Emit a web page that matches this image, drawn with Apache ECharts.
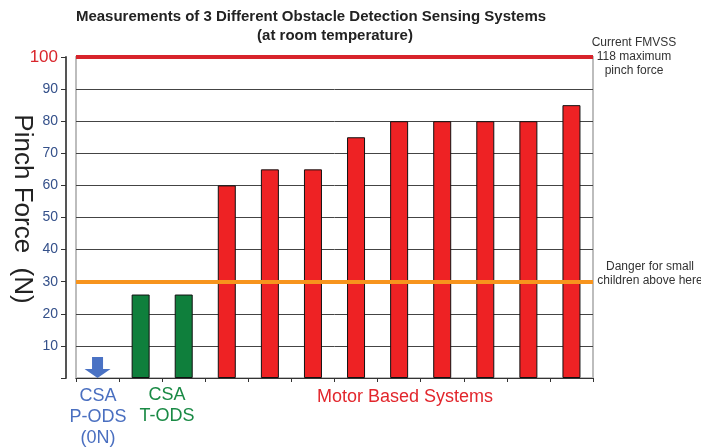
<!DOCTYPE html>
<html>
<head>
<meta charset="utf-8">
<script src="https://cdn.jsdelivr.net/npm/echarts@6/dist/echarts.min.js"></script>
<style>
html,body{margin:0;padding:0;background:#fff;}
#main{width:701px;height:447px;}
</style>
</head>
<body>
<div id="main"></div>
<script>
// ---- data ----
var categories = ['CSA P-ODS', 'CSA T-ODS 1', 'CSA T-ODS 2', 'Motor 1', 'Motor 2', 'Motor 3', 'Motor 4', 'Motor 5', 'Motor 6', 'Motor 7', 'Motor 8', 'Motor 9'];
var pinchForce = [0, 26, 26, 60, 65, 65, 75, 80, 80, 80, 80, 85];
var systemGroup = ['pods', 'tods', 'tods', 'motor', 'motor', 'motor', 'motor', 'motor', 'motor', 'motor', 'motor', 'motor'];
var yTicks = [0, 10, 20, 30, 40, 50, 60, 70, 80, 90, 100];
var fmvssLimit = 100;
var dangerLevel = 30;
var titleLines = ['Measurements of 3 Different Obstacle Detection Sensing Systems', '(at room temperature)'];
var fmvssNote = ['Current FMVSS', '118 maximum', 'pinch force'];
var dangerNote = ['Danger for small', 'children above here'];
var groupLabels = { pods: 'CSA\nP-ODS\n(0N)', tods: 'CSA\nT-ODS', motor: 'Motor Based Systems' };

// ---- styles ----
var groupColor = { pods: '#4a72c4', tods: '#0f7f3c', motor: '#ee2224' };
var groupTextColor = { pods: '#4a6fc0', tods: '#1a8a45', motor: '#e2262c' };
var FONT = '"Liberation Sans", Arial, sans-serif';
var NARROW = '"Liberation Sans Narrow", "Liberation Sans", Arial, sans-serif';

var barData = pinchForce.map(function (v, i) {
  var g = systemGroup[i];
  if (g === 'pods') {
    return { value: v, itemStyle: { color: 'rgba(0,0,0,0)', borderWidth: 0 } };
  }
  return { value: v, itemStyle: { color: groupColor[g], borderColor: '#111', borderWidth: 1 } };
});
var arrowData = [];
pinchForce.forEach(function (v, i) {
  if (systemGroup[i] === 'pods') arrowData.push([i, v]);
});

var chart = echarts.init(document.getElementById('main'), null, { renderer: 'canvas' });
chart.setOption({
  animation: false,
  backgroundColor: '#fff',
  grid: { left: 76, right: 108, top: 57, bottom: 69, show: true, borderColor: '#bdbdbd', borderWidth: 2, backgroundColor: 'transparent' },
  xAxis: {
    type: 'category',
    data: categories,
    axisLine: { show: true, lineStyle: { color: '#333', width: 1 } },
    axisTick: { show: true, length: 4, interval: 0, lineStyle: { color: '#333' } },
    axisLabel: { show: false },
    splitLine: { show: false }
  },
  yAxis: {
    type: 'value',
    min: yTicks[0],
    max: yTicks[yTicks.length - 1],
    interval: 10,
    offset: 10,
    axisLine: { show: true, lineStyle: { color: '#555', width: 2 } },
    axisTick: { show: true, length: 5, lineStyle: { color: '#333' } },
    axisLabel: {
      margin: 8,
      color: '#34508a',
      fontFamily: NARROW,
      fontSize: 14,
      formatter: function (v) {
        if (v === 0) return '';
        if (v === fmvssLimit) return '{r|' + v + '}';
        return String(v);
      },
      rich: { r: { color: '#d9262c', fontSize: 17, fontFamily: FONT } }
    },
    splitLine: { show: true, lineStyle: { color: '#444', width: 1 } }
  },
  series: [
    {
      type: 'bar',
      data: barData,
      barWidth: 18,
      markLine: {
        silent: true,
        symbol: 'none',
        label: { show: false },
        data: [
          { yAxis: fmvssLimit, lineStyle: { color: '#d8242b', width: 4, type: 'solid' } },
          { yAxis: dangerLevel, lineStyle: { color: '#f7941d', width: 4, type: 'solid' } }
        ]
      }
    },
    {
      type: 'scatter',
      data: arrowData,
      symbol: 'path://M7.5,0 L18.5,0 L18.5,12 L26,12 L13,21 L0,12 L7.5,12 Z',
      symbolSize: [26, 21],
      symbolOffset: [0, -10.5],
      itemStyle: { color: groupColor.pods, opacity: 1 },
      z: 5
    }
  ],
  graphic: [
    { type: 'text', x: 311, y: 17, style: { text: titleLines[0], font: 'bold 15px ' + FONT, fill: '#222', textAlign: 'center', textVerticalAlign: 'middle' } },
    { type: 'text', x: 335, y: 36, style: { text: titleLines[1], font: 'bold 15px ' + FONT, fill: '#222', textAlign: 'center', textVerticalAlign: 'middle' } },
    { type: 'text', x: 22, y: 209, rotation: -Math.PI / 2, style: { text: 'Pinch Force  (N)', font: '26px ' + FONT, fill: '#222', textAlign: 'center', textVerticalAlign: 'middle' } },
    { type: 'text', x: 634, y: 57, style: { text: fmvssNote.join('\n'), font: '12px ' + FONT, fill: '#333', textAlign: 'center', textVerticalAlign: 'middle', lineHeight: 14 } },
    { type: 'text', x: 650, y: 274, style: { text: dangerNote.join('\n'), font: '12px ' + FONT, fill: '#333', textAlign: 'center', textVerticalAlign: 'middle', lineHeight: 14 } },
    { type: 'text', x: 98, y: 417, style: { text: groupLabels.pods, font: '18px ' + FONT, fill: groupTextColor.pods, textAlign: 'center', textVerticalAlign: 'middle', lineHeight: 21 } },
    { type: 'text', x: 167, y: 406, style: { text: groupLabels.tods, font: '18px ' + FONT, fill: groupTextColor.tods, textAlign: 'center', textVerticalAlign: 'middle', lineHeight: 21 } },
    { type: 'text', x: 405, y: 397, style: { text: groupLabels.motor, font: '18px ' + FONT, fill: groupTextColor.motor, textAlign: 'center', textVerticalAlign: 'middle' } }
  ]
});
</script>
</body>
</html>
